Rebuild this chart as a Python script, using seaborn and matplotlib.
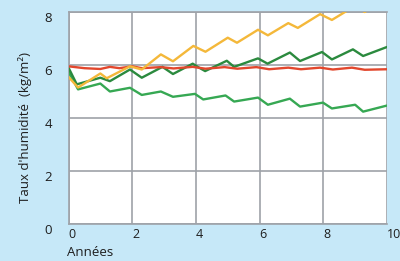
import matplotlib
matplotlib.use("Agg")
import matplotlib.pyplot as plt
import matplotlib.transforms as mtransforms
import seaborn as sns
import pandas as pd

# ---- data ----
years_ticks = [0, 2, 4, 6, 8, 10]
hum_ticks = [0, 2, 4, 6, 8]

yellow_x = [0, 0.3, 1.0, 1.2, 1.93, 2.3, 2.9, 3.28, 3.92, 4.3, 5.0, 5.29, 5.95,
            6.26, 6.9, 7.2, 7.9, 8.27, 8.75, 9.0, 9.3, 9.85, 10]
yellow_y = [5.55, 5.15, 5.68, 5.5, 5.95, 5.83, 6.4, 6.14, 6.72, 6.5, 7.03, 6.84, 7.33,
            7.12, 7.58, 7.4, 7.92, 7.7, 8.05, 8.2, 8.0, 8.4, 8.35]

dgreen_x = [0, 0.26, 1.0, 1.3, 1.93, 2.3, 2.95, 3.28, 3.9, 4.07, 4.29, 4.97, 5.2,
            5.95, 6.25, 6.95, 7.27, 7.96, 8.27, 8.93, 9.25, 10]
dgreen_y = [5.9, 5.27, 5.52, 5.39, 5.83, 5.52, 5.93, 5.66, 6.05, 5.92, 5.77, 6.16, 5.93,
            6.25, 6.05, 6.47, 6.15, 6.49, 6.21, 6.59, 6.34, 6.68]

lgreen_x = [0, 0.3, 1.0, 1.3, 1.93, 2.3, 2.9, 3.28, 3.97, 4.23, 4.93, 5.2, 5.95,
            6.26, 6.95, 7.27, 7.99, 8.27, 9.0, 9.25, 10]
lgreen_y = [5.75, 5.08, 5.3, 5.0, 5.14, 4.87, 5.0, 4.8, 4.91, 4.7, 4.85, 4.62, 4.77,
            4.5, 4.73, 4.43, 4.58, 4.36, 4.5, 4.24, 4.47]

red_x = [0, 0.5, 1.0, 1.3, 1.6, 2.0, 2.3, 2.9, 3.3, 3.9, 4.3, 4.9, 5.3, 5.9, 6.3,
         6.9, 7.3, 7.9, 8.3, 8.9, 9.3, 10]
red_y = [5.95, 5.88, 5.85, 5.93, 5.88, 5.95, 5.88, 5.92, 5.87, 5.93, 5.86, 5.92, 5.86,
         5.92, 5.84, 5.9, 5.84, 5.9, 5.83, 5.9, 5.82, 5.84]

x_label = "Années"
y_label = "Taux d'humidité  (kg/m²)"

# ---- style ----
sns.set_style("white")
plt.rcParams['font.family'] = ['Open Sans', 'DejaVu Sans']

BG = "#c6e8f8"
GRID = "#9ea2a8"
TXT = "#1e1e1e"

fig = plt.figure(figsize=(4.0, 2.61), dpi=100)
fig.patch.set_facecolor(BG)
W, H = 400, 261
ax = fig.add_axes([68.5 / W, 1 - 224 / H, (387 - 68.5) / W, (224 - 12) / H])
ax.set_facecolor("white")

series = [
    (lgreen_x, lgreen_y, "#36a853"),
    (dgreen_x, dgreen_y, "#2b8a3e"),
    (red_x, red_y, "#e2472d"),
    (yellow_x, yellow_y, "#f4b83a"),
]
for xs, ys, col in series:
    df = pd.DataFrame({"x": xs, "y": ys})
    sns.lineplot(data=df, x="x", y="y", ax=ax, color=col, linewidth=1.7,
                 estimator=None, zorder=3)

ax.set_xlim(0, 10)
ax.set_ylim(0, 8)
ax.set_xticks(years_ticks)
ax.set_yticks(hum_ticks)
ax.set_xticklabels([str(t) for t in years_ticks])
ax.set_yticklabels([str(t) for t in hum_ticks])
ax.grid(True, color=GRID, linewidth=1.2)
ax.set_axisbelow(True)
for s in ["left", "bottom", "top"]:
    ax.spines[s].set_color(GRID)
    ax.spines[s].set_linewidth(1.2)
ax.spines["right"].set_visible(False)

ax.tick_params(length=0, labelsize=9.5, colors=TXT)
ax.tick_params(axis="x", labelsize=9)
ax.tick_params(axis="y", pad=12)
ax.tick_params(axis="x", pad=3)
for lab in ax.get_xticklabels():
    lab.set_horizontalalignment("left")
    lab.set_fontweight("medium")
off = mtransforms.ScaledTranslation(0, -5 / 100, fig.dpi_scale_trans)
for lab in ax.get_yticklabels():
    lab.set_transform(lab.get_transform() + off)
    lab.set_fontweight("medium")

ax.set_xlabel("")
ax.set_ylabel("")
fig.text(67 / W, 1 - 253 / H, x_label, ha="left", va="center",
         fontsize=9.5, color=TXT, fontweight="medium")
fig.text(25 / W, 1 - 128 / H, y_label, ha="center", va="center",
         rotation=90, fontsize=9.5, color=TXT, fontweight="medium")

fig.savefig("out.png", dpi=100, facecolor=BG)
